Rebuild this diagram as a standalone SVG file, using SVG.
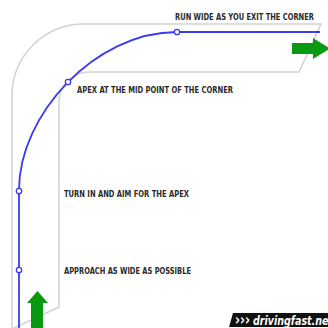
<svg xmlns="http://www.w3.org/2000/svg" width="328" height="328" viewBox="0 0 328 328">
<style>
.lbl{font-family:"DejaVu Sans Condensed","DejaVu Sans",sans-serif;font-stretch:condensed;font-weight:bold;font-size:8.6px;fill:#2a2a2a}
.dot{fill:#fff;stroke:#3a3af0;stroke-width:1.3}
.track{fill:none;stroke:#d2d2d2;stroke-width:1.5}
.line{fill:none;stroke:#3a3af0;stroke-width:1.8}
.arrow{fill:#0a9a12}
</style>
<rect width="328" height="328" fill="#fff"/>
<g id="track">
<path class="track" d="M 59 307 L 59 102 A 30 30 0 0 1 89 72 L 299 72 L 321 24 L 84 24 A 72 72 0 0 0 12 96 L 12 330"/>
<path class="track" d="M 59 307 L 12 329"/>
</g>
<g id="connectors">
<path class="line" d="M 19 330 L 19 190 C 19 115 95 32 177 32 L 320 32"/>
</g>
<g id="arrows">
<polygon class="arrow" points="31,328 31,303 27,303 37.5,291 48,303 43,303 43,328"/>
<polygon class="arrow" points="292,43 313,43 313,38 330,48.5 313,59 313,54 292,54"/>
</g>
<g id="node-exit">
<circle class="dot" cx="177" cy="32" r="2.7"/>
<text class="lbl" x="175" y="20" textLength="139" lengthAdjust="spacingAndGlyphs">RUN WIDE AS YOU EXIT THE CORNER</text>
</g>
<g id="node-apex">
<circle class="dot" cx="68" cy="82" r="2.7"/>
<text class="lbl" x="77" y="92.5" textLength="156" lengthAdjust="spacingAndGlyphs">APEX AT THE MID POINT OF THE CORNER</text>
</g>
<g id="node-turnin">
<circle class="dot" cx="19" cy="191" r="2.7"/>
<text class="lbl" x="64" y="197" textLength="125" lengthAdjust="spacingAndGlyphs">TURN IN AND AIM FOR THE APEX</text>
</g>
<g id="node-approach">
<circle class="dot" cx="19" cy="270" r="2.7"/>
<text class="lbl" x="64" y="273.5" textLength="127" lengthAdjust="spacingAndGlyphs">APPROACH AS WIDE AS POSSIBLE</text>
</g>
<g id="logo">
<polygon points="233,313 328,313 328,327 229,327" fill="#111"/>
<text x="235" y="325" font-family="DejaVu Sans" font-weight="bold" font-size="15" fill="#fff" textLength="15" lengthAdjust="spacingAndGlyphs">›››</text>
<text x="253" y="324.5" font-family="DejaVu Sans Condensed, DejaVu Sans, sans-serif" font-stretch="condensed" font-weight="bold" font-style="italic" font-size="11.5" fill="#fff" textLength="80" lengthAdjust="spacingAndGlyphs">drivingfast.net</text>
</g>
</svg>
